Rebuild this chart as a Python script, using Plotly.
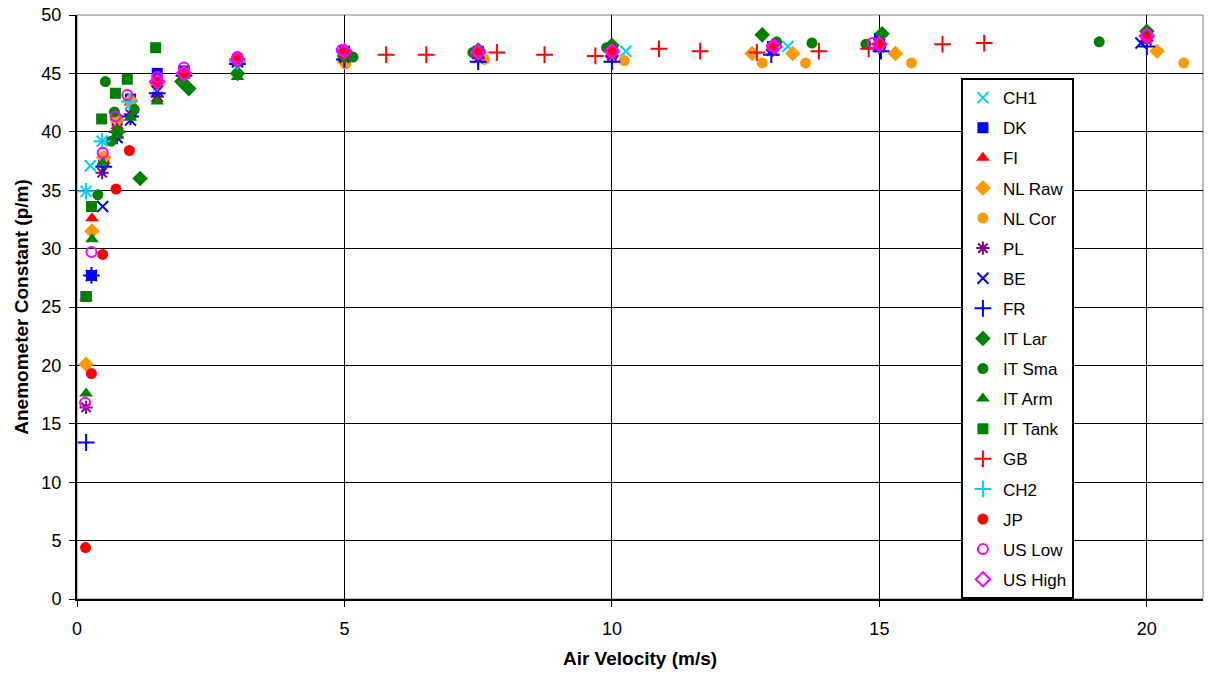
import plotly.graph_objects as go

# Anemometer calibration results: constant (p/m) vs air velocity (m/s) per lab/series
ch1_x = [0.17, 0.25, 0.47, 1.0, 1.5, 2.0, 3.0, 5.0, 7.5, 10.26, 13.29, 15.0, 20.0]
ch1_y = [34.9, 37.1, 39.2, 42.4, 44.5, 45.0, 46.0, 46.6, 46.7, 46.9, 47.3, 47.5, 48.0]

dk_x = [0.17, 0.27, 0.5, 0.75, 1.0, 1.5, 2.0, 3.0, 5.0, 7.5, 10.0, 13.0, 15.0, 20.0]
dk_y = [25.9, 27.7, 37.5, 41.0, 42.8, 45.0, 45.2, 46.2, 46.9, 46.9, 46.9, 47.3, 48.0, 48.2]

fi_x = [0.17, 0.28, 0.5, 0.75, 1.0, 1.5, 2.0, 3.0, 5.0, 7.5, 10.0, 13.0, 15.0, 20.0]
fi_y = [25.8, 32.6, 37.5, 40.5, 42.5, 42.8, 45.0, 46.3, 46.9, 46.9, 47.0, 47.5, 47.8, 48.4]

nlraw_x = [0.17, 0.28, 0.5, 0.75, 1.0, 1.5, 2.0, 3.0, 5.0, 7.5, 10.0, 12.62, 13.38, 15.3, 20.19]
nlraw_y = [20.1, 31.5, 37.8, 41.0, 42.7, 44.0, 45.0, 46.0, 46.0, 46.6, 46.5, 46.7, 46.7, 46.7, 46.9]

nlcor_x = [0.5, 1.0, 1.5, 5.02, 7.62, 10.23, 12.81, 13.62, 15.6, 20.69]
nlcor_y = [37.9, 42.6, 43.9, 45.8, 46.2, 46.1, 45.9, 45.9, 45.9, 45.9]

pl_x = [0.17, 0.47, 0.75, 1.0, 1.5, 2.0, 3.0, 5.0, 7.5, 10.0, 13.0, 15.0, 20.0]
pl_y = [16.4, 36.5, 39.5, 41.5, 43.0, 45.0, 46.0, 46.3, 46.3, 46.5, 47.0, 47.2, 47.8]

be_x = [0.27, 0.48, 0.75, 1.0, 1.5, 2.0, 3.0, 5.0, 7.5, 10.0, 13.0, 15.0, 19.89]
be_y = [27.7, 33.6, 39.5, 41.0, 43.5, 45.2, 46.0, 46.5, 46.8, 46.8, 47.0, 47.5, 47.6]

fr_x = [0.17, 0.27, 0.5, 0.75, 1.0, 1.5, 2.0, 3.0, 5.0, 7.5, 10.0, 12.98, 15.03, 20.0]
fr_y = [13.4, 27.7, 37.0, 40.0, 41.3, 43.3, 44.8, 45.8, 46.2, 46.0, 46.0, 46.6, 46.9, 47.3]

itlar_x = [0.76, 1.18, 1.96, 2.09, 3.0, 5.0, 7.5, 10.0, 12.81, 15.05, 20.0]
itlar_y = [40.0, 36.0, 44.3, 43.7, 45.0, 46.5, 47.0, 47.4, 48.3, 48.4, 48.6]

itsma_x = [0.39, 0.53, 0.64, 0.70, 1.07, 3.0, 5.16, 7.4, 9.9, 13.08, 13.74, 14.75, 19.11]
itsma_y = [34.6, 44.3, 39.2, 41.7, 41.9, 46.0, 46.4, 46.8, 47.2, 47.7, 47.6, 47.5, 47.7]

itarm_x = [0.17, 0.28, 0.48, 0.75, 1.0, 1.5, 2.0, 3.0]
itarm_y = [17.6, 30.8, 37.3, 39.8, 41.2, 42.6, 44.8, 44.7]

ittank_x = [0.17, 0.27, 0.46, 0.72, 0.94, 1.47]
ittank_y = [25.9, 33.6, 41.1, 43.3, 44.5, 47.2]

gb_x = [5.78, 6.53, 7.85, 8.74, 9.69, 10.88, 11.65, 12.71, 13.87, 14.8, 16.18, 16.96]
gb_y = [46.6, 46.6, 46.8, 46.6, 46.5, 47.1, 46.9, 46.8, 46.9, 47.1, 47.5, 47.6]

ch2_x = [0.17, 0.47, 0.98, 1.5, 2.0, 3.0]
ch2_y = [34.9, 39.2, 42.6, 44.2, 45.0, 46.0]

jp_x = [0.16, 0.27, 0.48, 0.73, 0.98, 1.5, 2.0, 3.0, 5.0, 7.5, 10.0, 13.0, 15.0, 20.0]
jp_y = [4.4, 19.3, 29.5, 35.1, 38.4, 44.2, 45.0, 46.3, 46.7, 46.8, 46.8, 47.3, 47.5, 48.0]

uslow_x = [0.15, 0.27, 0.48, 0.72, 0.94, 1.5, 2.0, 3.0, 4.95, 7.5, 10.0, 13.0, 14.87, 20.0]
uslow_y = [16.8, 29.7, 38.2, 41.3, 43.15, 44.7, 45.5, 46.4, 47.0, 46.9, 46.9, 47.3, 47.6, 48.3]

ushigh_x = [1.5, 2.0, 3.0, 5.0, 7.5, 10.0, 13.04, 15.0, 20.0]
ushigh_y = [44.3, 45.0, 46.2, 46.9, 46.8, 46.9, 47.3, 47.5, 48.2]

series = [
    ("CH1", ch1_x, ch1_y, "x-thin", "#00CCFF", 11, 2),
    ("DK", dk_x, dk_y, "square", "#0000FF", 11, 0),
    ("FI", fi_x, fi_y, "triangle-up", "#FF0000", 12, 0),
    ("NL Raw", nlraw_x, nlraw_y, "diamond", "#FF9900", 12, 0),
    ("NL Cor", nlcor_x, nlcor_y, "circle", "#FF9900", 11, 0),
    ("PL", pl_x, pl_y, "asterisk", "#800080", 11, 2),
    ("BE", be_x, be_y, "x-thin", "#0000FF", 11, 2),
    ("FR", fr_x, fr_y, "cross-thin", "#0000FF", 12, 2),
    ("IT Lar", itlar_x, itlar_y, "diamond", "#008000", 12, 0),
    ("IT Sma", itsma_x, itsma_y, "circle", "#008000", 11, 0),
    ("IT Arm", itarm_x, itarm_y, "triangle-up", "#008000", 12, 0),
    ("IT Tank", ittank_x, ittank_y, "square", "#008000", 11, 0),
    ("GB", gb_x, gb_y, "cross-thin", "#FF0000", 12, 2),
    ("CH2", ch2_x, ch2_y, "cross-thin", "#00CCFF", 12, 2),
    ("JP", jp_x, jp_y, "circle", "#FF0000", 11, 0),
    ("US Low", uslow_x, uslow_y, "circle-open", "#FF00FF", 10, 2),
    ("US High", ushigh_x, ushigh_y, "diamond-open", "#FF00FF", 11, 2),
]

fig = go.Figure()
for name, xs, ys, sym, col, size, lw in series:
    marker = dict(symbol=sym, color=col, size=size)
    if lw:
        marker["line"] = dict(color=col, width=lw)
    else:
        marker["line"] = dict(width=0)
    fig.add_trace(go.Scatter(
        x=xs, y=ys, mode="markers", name=name, marker=marker,
        legendgroup=name,
    ))

font = "Arial, Liberation Sans, sans-serif"

# light plot-area border
fig.add_shape(type="rect", xref="paper", yref="paper", x0=0, y0=0, x1=1, y1=1,
              line=dict(color="#808080", width=1), layer="below")

fig.update_layout(
    width=1209, height=679,
    margin=dict(l=77, r=6, t=15, b=80),
    paper_bgcolor="white", plot_bgcolor="white",
    font=dict(family=font, color="black"),
    showlegend=True,
    legend=dict(
        x=0.785, y=0.892, xanchor="left", yanchor="top",
        bgcolor="white", bordercolor="black", borderwidth=2,
        font=dict(size=17, family=font), tracegroupgap=5,
        itemwidth=30,
    ),
    xaxis=dict(
        range=[0, 21.05], tickvals=[0, 5, 10, 15, 20],
        showgrid=True, gridcolor="black", gridwidth=1,
        showline=True, linecolor="black", linewidth=2,
        ticks="outside", ticklen=6, tickcolor="black",
        zeroline=False, tickfont=dict(size=18), ticklabelstandoff=6,
        title=dict(text="<b>Air Velocity (m/s)</b>", font=dict(size=19), standoff=14),
    ),
    yaxis=dict(
        range=[0, 50], tickvals=list(range(0, 51, 5)),
        showgrid=True, gridcolor="black", gridwidth=1,
        showline=True, linecolor="black", linewidth=2,
        ticks="outside", ticklen=6, tickcolor="black",
        zeroline=False, tickfont=dict(size=18), ticklabelstandoff=4,
        title=dict(text="<b>Anemometer Constant (p/m)</b>", font=dict(size=19), standoff=8),
    ),
)

fig.write_html("out.html")
